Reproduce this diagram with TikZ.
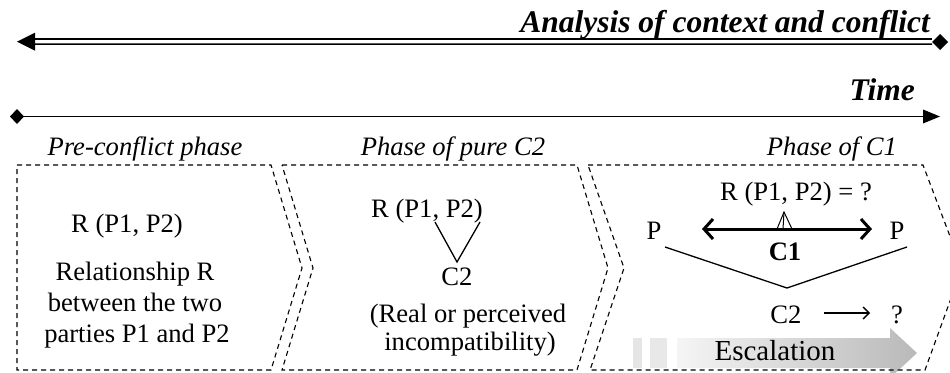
\documentclass[tikz,border=0pt]{standalone}
\usepackage{fontspec}
\setmainfont{Liberation Serif}
\usetikzlibrary{arrows.meta}
\begin{document}
\begin{tikzpicture}[x=1pt,y=-1pt,
  txt/.style={inner sep=0pt, anchor=base, font=\fontsize{26.6}{30}\selectfont},
  phaselabel/.style={inner sep=0pt, anchor=base, font=\fontsize{26.6}{30}\selectfont\itshape},
  heading/.style={inner sep=0pt, anchor=base east, font=\fontsize{31.5}{36}\selectfont\bfseries\itshape},
  phasebox/.style={draw, line width=1.1pt, dash pattern=on 5pt off 4pt, line join=miter},
  timeline/.style={line width=1.7pt},
  link/.style={line width=1.3pt},
  tipfill/.style={fill=black},
]
\useasboundingbox (0,0) rectangle (950,372);
\clip (0,0) rectangle (950,372);

% --- analysis line (double, arrow to the left, diamond on the right)
\coordinate (anL) at (17,41.7);
\coordinate (anR) at (940,42);
\draw[timeline] ([shift={(16,-2.4)}]anL) -- ([shift={(-8,-2.7)}]anR);
\draw[timeline] ([shift={(16,2.4)}]anL) -- ([shift={(-8,2.1)}]anR);
\fill[tipfill] (anL) -- ++(18,-9) -- ++(0,18) -- cycle;
\fill[tipfill] (anR) ++(-8,0) -- ++(8,-8) -- ++(8,8) -- ++(-8,8) -- cycle;
\node[heading] (antitle) at (930,32) {Analysis of context and conflict};

% --- time line
\coordinate (tL) at (17,116.5);
\coordinate (tR) at (940,116.5);
\draw[timeline] (tL) -- ([xshift=-14pt]tR);
\fill[tipfill] (tL) ++(-7,0) -- ++(7,-7.5) -- ++(7,7.5) -- ++(-7,7.5) -- cycle;
\fill[tipfill] (tR) -- ++(-17,-7) -- ++(0,14) -- cycle;
\node[heading] (timetitle) at (915,100) {Time};

% --- escalation arrow
\fill[gray!20] (633,338) rectangle (642,368);
\fill[gray!18] (650,338) rectangle (667,368);
\shade[left color=gray!8, right color=gray!55]
  (677,338) -- (890,338) -- (890,328) -- (917,353) -- (890,378) -- (890,368) -- (677,368) -- cycle;
\node[txt, font=\fontsize{29}{33}\selectfont] (esc) at (775,360) {Escalation};

% --- phase boxes
\draw[phasebox] (17,165) -- (271,165) -- (302,268) -- (271,370) -- (17,370) -- cycle;
\draw[phasebox] (282,165) -- (577,165) -- (608,268) -- (577,370) -- (282,370) -- (313,268) -- cycle;
\draw[phasebox] (588,165) -- (923,165) -- (962,268) -- (925,370) -- (590,370) -- (624,268) -- cycle;

\node[phaselabel] (ph1) at (145,155) {Pre-conflict phase};
\node[phaselabel] (ph2) at (453,155) {Phase of pure C2};
\node[phaselabel] (ph3) at (832,155) {Phase of C1};

% --- pre-conflict phase
\node[txt] (r1) at (127,232) {R (P1, P2)};
\node[txt] (d1a) at (135,280) {Relationship R};
\node[txt] (d1b) at (135,311) {between the two};
\node[txt] (d1c) at (137,342) {parties P1 and P2};

% --- phase of pure C2
\node[txt] (r2) at (427,217) {R (P1, P2)};
\node[txt] (c2a) at (457,285) {C2};
\node[txt] (d2a) at (468,322) {(Real or perceived};
\node[txt] (d2b) at (470,350) {incompatibility)};
\coordinate (v2l) at (435,222);
\coordinate (v2m) at (457,262);
\coordinate (v2r) at (480,222);
\draw[link] (v2l) -- (v2m) -- (v2r);

% --- phase of C1
\node[txt] (r3) at (796,200) {R (P1, P2) = ?};
\node[txt] (pl) at (654,239) {P};
\node[txt] (pr) at (897,239) {P};
\node[txt, font=\fontsize{26.6}{30}\selectfont\bfseries] (c1) at (785,260) {C1};
\coordinate (c1l) at (702,229);
\coordinate (c1r) at (872,229);
\draw[line width=3pt, {Straight Barb[length=9pt,width=20pt]}-{Straight Barb[length=9pt,width=20pt]}] (c1l) -- (c1r);
\coordinate (mk) at (784,212);
\draw[line width=1pt, line join=miter] (777,229) -- (mk) -- (792,229);
\draw[line width=1pt] (mk) -- (783,229);
\coordinate (v3l) at (665,247);
\coordinate (v3m) at (787,288);
\coordinate (v3r) at (907,247);
\draw[link] (v3l) -- (v3m) -- (v3r);
\node[txt] (c2b) at (786,323) {C2};
\node[txt] (q) at (897,323) {?};
\draw[line width=1.3pt, -{Straight Barb[length=6pt,width=12pt]}] (824,313) -- (870,313);
\end{tikzpicture}
\end{document}
